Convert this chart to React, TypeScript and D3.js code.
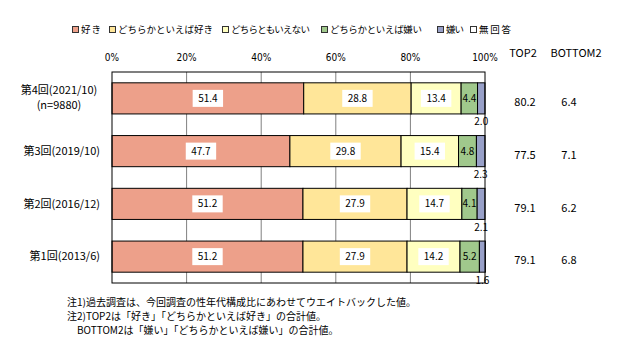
import React from 'react';
import * as d3 from 'd3';

const categories = ['第4回(2021/10)', '第3回(2019/10)', '第2回(2016/12)', '第1回(2013/6)'];
const seriesNames = ['好き', 'どちらかといえば好き', 'どちらともいえない', 'どちらかといえば嫌い', '嫌い', '無回答'];
const like = [51.4, 47.7, 51.2, 51.2];
const ratherLike = [28.8, 29.8, 27.9, 27.9];
const neutral = [13.4, 15.4, 14.7, 14.2];
const ratherDislike = [4.4, 4.8, 4.1, 5.2];
const dislike = [2.0, 2.3, 2.1, 1.6];
const noAnswer = [0, 0, 0, 0];
const top2 = [80.2, 77.5, 79.1, 79.1];
const bottom2 = [6.4, 7.1, 6.2, 6.8];
const xTicks = [0, 20, 40, 60, 80, 100];
const notes = [
  '注1)過去調査は、今回調査の性年代構成比にあわせてウエイトバックした値。',
  '注2)TOP2は「好き」「どちらかといえば好き」の合計値。',
  '　BOTTOM2は「嫌い」「どちらかといえば嫌い」の合計値。',
];

const colors = ['#EDA08A', '#FFE699', '#FFFFC0', '#A0C88C', '#98A0C8', '#FFFFFF'];
// legend layout (marker x, text span)
const legendX = [72, 109, 222, 321, 437, 470];
const legendLen = [20, 95, 79, 92, 18, 32];

const FONT = '"Noto Sans CJK JP", sans-serif';

export default function App() {
  const width = 617;
  const height = 353;
  const plot = { left: 112, right: 485, top: 72, bottom: 283 };

  const values = [like, ratherLike, neutral, ratherDislike, dislike, noAnswer];
  const rows = categories.map((c, i) => {
    const r: any = { cat: c };
    seriesNames.forEach((s, k) => { r[s] = values[k][i]; });
    return r;
  });
  const stacked = d3.stack<any>().keys(seriesNames)(rows);

  const x = d3.scaleLinear().domain([0, 100]).range([plot.left, plot.right]);
  const y = d3.scaleBand<string>()
    .domain(categories)
    .range([plot.top, plot.bottom])
    .paddingInner(0.41)
    .paddingOuter(0.205);
  const bw = y.bandwidth();

  return (
    <svg width={width} height={height} style={{ position: 'absolute', left: 0, top: 0, background: '#fff' }}
      fontFamily={FONT}>
      {/* legend */}
      {seriesNames.map((s, k) => (
        <g key={s} transform={`translate(${legendX[k]},30)`}>
          <rect x={0.5} y={-3.5} width={6} height={6} fill={colors[k]} stroke="#333" strokeWidth={1} />
          <text x={9} y={0} dy="0.35em" fontSize={9.5} textLength={legendLen[k]} lengthAdjust="spacing">{s}</text>
        </g>
      ))}

      {/* x tick labels */}
      {xTicks.map(t => (
        <text key={t} x={x(t)} y={57} dy="0.35em" textAnchor="middle" fontSize={10}
          fontFamily='"Liberation Sans Narrow", "DejaVu Sans Condensed", sans-serif'>{t}%</text>
      ))}

      {/* gridlines */}
      {xTicks.slice(1, -1).map(t => (
        <line key={t} x1={x(t)} x2={x(t)} y1={plot.top} y2={plot.bottom} stroke="#808080" strokeWidth={1} />
      ))}

      {/* bars */}
      {stacked.map((layer, k) => (
        <g key={layer.key}>
          {layer.map((d, i) => (d[1] - d[0] > 0 ? (
            <rect key={i} x={x(d[0])} y={y(categories[i])!} width={x(d[1]) - x(d[0])} height={bw}
              fill={colors[k]} stroke="#000" strokeWidth={1} />
          ) : null))}
        </g>
      ))}

      {/* plot frame */}
      <rect x={plot.left} y={plot.top} width={plot.right - plot.left} height={plot.bottom - plot.top}
        fill="none" stroke="#000" strokeWidth={1} />

      {/* data labels */}
      {stacked.map((layer, k) => layer.map((d, i) => {
        const v = d[1] - d[0];
        if (v <= 0) return null;
        const cx = x((d[0] + d[1]) / 2);
        const cy = y(categories[i])! + bw / 2;
        const label = d3.format('.1f')(values[k][i]);
        if (k <= 2) {
          const w = label.length * 5.6 + 8;
          return (
            <g key={`${k}-${i}`}>
              <rect x={cx - w / 2} y={cy - 8.5} width={w} height={17} fill="#fff" />
              <text x={cx} y={cy} dy="0.35em" textAnchor="middle" fontSize={10}>{label}</text>
            </g>
          );
        }
        if (k === 3) {
          return <text key={`${k}-${i}`} x={cx} y={cy} dy="0.35em" textAnchor="middle" fontSize={10}>{label}</text>;
        }
        if (k === 4) {
          return <text key={`${k}-${i}`} x={cx} y={y(categories[i])! + bw + 8} dy="0.35em" textAnchor="middle" fontSize={10}>{label}</text>;
        }
        return null;
      }))}

      {/* category labels */}
      {categories.map((c, i) => {
        const cy = y(c)! + bw / 2;
        if (i === 0) {
          return (
            <g key={c}>
              <text x={59} y={cy - 8} dy="0.35em" textAnchor="middle" fontSize={11}>{c}</text>
              <text x={59} y={cy + 7} dy="0.35em" textAnchor="middle" fontSize={11}>(n=9880)</text>
            </g>
          );
        }
        return <text key={c} x={100} y={cy} dy="0.35em" textAnchor="end" fontSize={11}>{c}</text>;
      })}

      {/* TOP2 / BOTTOM2 */}
      <text x={523} y={53} dy="0.35em" textAnchor="middle" fontSize={11}>TOP2</text>
      <text x={576} y={53} dy="0.35em" textAnchor="middle" fontSize={11}>BOTTOM2</text>
      {categories.map((c, i) => (
        <g key={c}>
          <text x={525} y={y(c)! + bw / 2 + 4} dy="0.35em" textAnchor="middle" fontSize={11}>{top2[i].toFixed(1)}</text>
          <text x={569} y={y(c)! + bw / 2 + 4} dy="0.35em" textAnchor="middle" fontSize={11}>{bottom2[i].toFixed(1)}</text>
        </g>
      ))}

      {/* notes */}
      {notes.map((n, i) => (
        <text key={i} x={67} y={302 + i * 14} dy="0.35em" fontSize={10}>{n}</text>
      ))}
    </svg>
  );
}
